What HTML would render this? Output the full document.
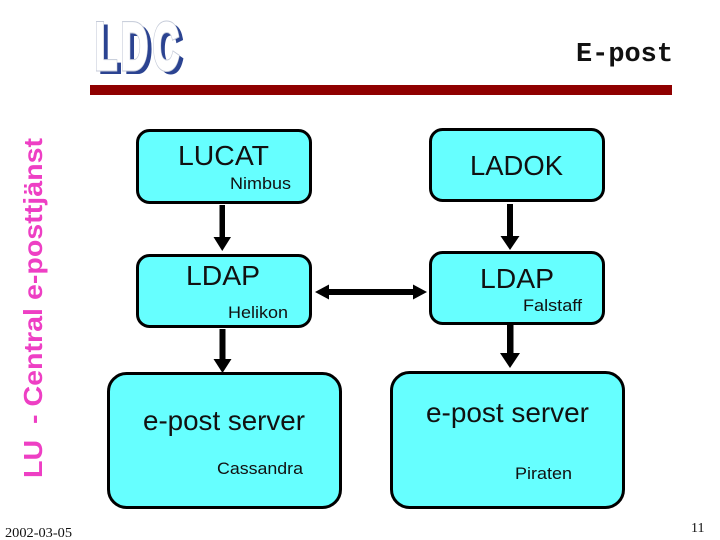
<!DOCTYPE html>
<html><head><meta charset="utf-8"><style>html,body{margin:0;padding:0;background:#fff}svg{display:block}</style></head>
<body>
<svg width="720" height="540" viewBox="0 0 720 540" xmlns="http://www.w3.org/2000/svg" font-family="'Liberation Sans',sans-serif">
<rect width="720" height="540" fill="#fff"/>
<!-- logo -->
<g font-weight="bold" font-size="66" font-family="'Liberation Sans',sans-serif" stroke-linejoin="miter">
<g fill="#2b4391" stroke="#2b4391" stroke-width="4">
<text x="99" y="72" textLength="22" lengthAdjust="spacingAndGlyphs">L</text>
<text x="125" y="72" textLength="27" lengthAdjust="spacingAndGlyphs">D</text>
<text x="157" y="72" textLength="26" lengthAdjust="spacingAndGlyphs">C</text>
</g>
<g fill="#fff" stroke="#c4cad8" stroke-width="5">
<text x="95" y="69" textLength="22" lengthAdjust="spacingAndGlyphs">L</text>
<text x="121" y="69" textLength="27" lengthAdjust="spacingAndGlyphs">D</text>
<text x="153" y="69" textLength="26" lengthAdjust="spacingAndGlyphs">C</text>
</g>
<g fill="#fff" stroke="#fff" stroke-width="3">
<text x="95" y="69" textLength="22" lengthAdjust="spacingAndGlyphs">L</text>
<text x="121" y="69" textLength="27" lengthAdjust="spacingAndGlyphs">D</text>
<text x="153" y="69" textLength="26" lengthAdjust="spacingAndGlyphs">C</text>
</g>
</g>
<text x="576" y="61" font-family="'Liberation Mono',monospace" font-weight="bold" font-size="27" textLength="97" lengthAdjust="spacingAndGlyphs" fill="#111">E-post</text>
<rect x="90" y="85" width="582" height="10" fill="#8f0000"/>
<text transform="translate(42,478) rotate(-90)" font-weight="bold" font-size="26" fill="#ee3fc4" textLength="340" lengthAdjust="spacingAndGlyphs" xml:space="preserve">LU  - Central e-posttjänst</text>
<!-- boxes -->
<g fill="#66ffff" stroke="#000" stroke-width="3">
<rect x="137.500" y="130.500" width="173" height="72" rx="12"/>
<rect x="137.500" y="255.500" width="173" height="71" rx="12"/>
<rect x="430.500" y="129.500" width="173" height="71" rx="12"/>
<rect x="430.500" y="252.500" width="173" height="71" rx="12"/>
<rect x="108.500" y="373.500" width="232" height="134" rx="18"/>
<rect x="391.500" y="372.500" width="232" height="135" rx="18"/>
</g>
<!-- arrows -->
<g fill="#000">
<path d="M219.500 205h5.500v32h6l-8.750 14l-8.750-14h6z"/>
<path d="M219.500 329h6v30h6l-9 14l-9-14h6z"/>
<path d="M507 204h6v32h6.500l-9.500 14l-9.500-14h6.500z"/>
<path d="M507 322h6.500v31h6.500l-10 15l-10-15h7z"/>
<path d="M315 292l14-7.500v4.500h84v-4.500l14 7.500l-14 7.500v-4.500h-84v4.500z"/>
</g>
<!-- labels -->
<g fill="#111">
<text x="178" y="165" font-size="28" textLength="91" lengthAdjust="spacingAndGlyphs">LUCAT</text>
<text x="230" y="189" font-size="17" textLength="61" lengthAdjust="spacingAndGlyphs">Nimbus</text>
<text x="470" y="175" font-size="28" textLength="93" lengthAdjust="spacingAndGlyphs">LADOK</text>
<text x="186" y="285" font-size="28" textLength="74" lengthAdjust="spacingAndGlyphs">LDAP</text>
<text x="228" y="318" font-size="17" textLength="60" lengthAdjust="spacingAndGlyphs">Helikon</text>
<text x="480" y="288" font-size="28" textLength="74" lengthAdjust="spacingAndGlyphs">LDAP</text>
<text x="523" y="311" font-size="17" textLength="59" lengthAdjust="spacingAndGlyphs">Falstaff</text>
<text x="143" y="430" font-size="28" textLength="162" lengthAdjust="spacingAndGlyphs">e-post server</text>
<text x="217" y="474" font-size="17" textLength="86" lengthAdjust="spacingAndGlyphs">Cassandra</text>
<text x="426" y="422" font-size="28" textLength="163" lengthAdjust="spacingAndGlyphs">e-post server</text>
<text x="515" y="479" font-size="17" textLength="57" lengthAdjust="spacingAndGlyphs">Piraten</text>
</g>
<text x="5" y="537" font-family="'Liberation Serif',serif" font-size="14" fill="#111" textLength="67" lengthAdjust="spacingAndGlyphs">2002-03-05</text>
<text x="691" y="532" font-family="'Liberation Serif',serif" font-size="14" fill="#111">11</text>
</svg>
</body></html>
